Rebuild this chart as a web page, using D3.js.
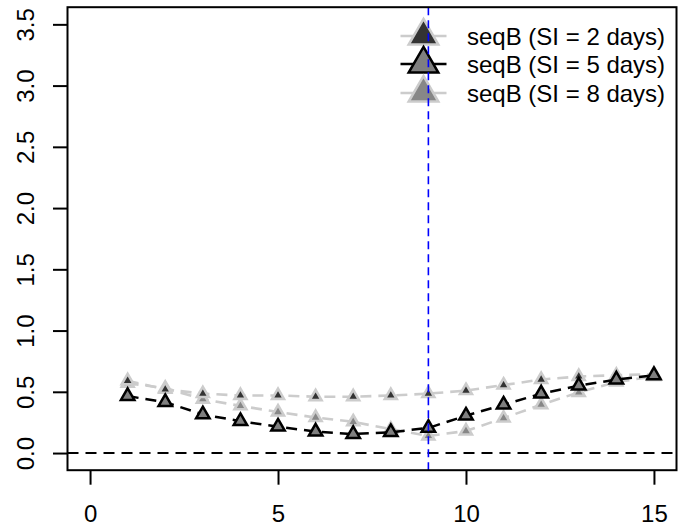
<!DOCTYPE html>
<html>
<head>
<meta charset="utf-8">
<script src="https://cdn.jsdelivr.net/npm/d3@7"></script>
<style>
  html, body { margin: 0; padding: 0; background: #ffffff; }
  svg { display: block; }
  text { font-family: "Liberation Sans", Arial, Helvetica, sans-serif; }
</style>
</head>
<body>
<svg id="chart" width="685" height="531"></svg>
<script>
// ---- data ----
const days = [1,2,3,4,5,6,7,8,9,10,11,12,13,14,15];
const si2 = [0.59,0.52,0.485,0.47,0.47,0.46,0.46,0.47,0.485,0.51,0.555,0.60,0.625,0.635,0.645];
const si5 = [0.465,0.415,0.315,0.26,0.215,0.175,0.155,0.17,0.205,0.305,0.395,0.485,0.55,0.60,0.635];
const si8 = [0.57,0.53,0.44,0.385,0.335,0.29,0.255,0.195,0.14,0.18,0.285,0.395,0.495,0.58,0.625];
const seriesNames = ["seqB (SI = 2 days)", "seqB (SI = 5 days)", "seqB (SI = 8 days)"];
const xTicks = [0,5,10,15];
const yTicks = [0,0.5,1,1.5,2,2.5,3,3.5];
const vLineX = 9;
const hLineY = 0;

// ---- layout ----
const svg = d3.select("#chart");
const box = {left: 67.5, right: 676.5, top: 7.2, bottom: 470.2};
const x = d3.scaleLinear().domain([-0.6, 15.6]).range([box.left, box.right]);
const y = d3.scaleLinear().domain([-0.14, 3.64]).range([box.bottom, box.top]);

const light = "#cccccc";
const styles = [
  {data: si2, fill: "#333333", stroke: light, line: light, lw: 2.6, s: 4.4, sw: 2.6, legS: 11, legSW: 2.5},
  {data: si5, fill: "#7f7f7f", stroke: "#000000", line: "#000000", lw: 2.5, s: 5.0, sw: 2.5, legS: 11, legSW: 2.5},
  {data: si8, fill: "#878787", stroke: light, line: light, lw: 2.6, s: 4.4, sw: 2.6, legS: 11, legSW: 2.5}
];

function tri(cx, cy, s) {
  const r = 1.555 * s, xc = 1.347 * s, yc = 0.778 * s;
  return `M${cx},${cy - r}L${cx + xc},${cy + yc}L${cx - xc},${cy + yc}Z`;
}

// ---- series (SI=8, SI=2, SI=5 order so black on top) ----
const order = [2, 0, 1];
const line = d3.line().x((d, i) => x(days[i])).y(d => y(d));
order.forEach(k => {
  const st = styles[k];
  const g = svg.append("g");
  g.append("path").attr("d", line(st.data))
    .attr("fill", "none").attr("stroke", st.line).attr("stroke-width", st.lw)
    .attr("stroke-dasharray", "11,7");
  g.selectAll("path.pt").data(st.data).enter().append("path")
    .attr("class", "pt")
    .attr("d", (d, i) => tri(x(days[i]), y(d), st.s))
    .attr("fill", st.fill).attr("stroke", st.stroke).attr("stroke-width", st.sw)
    .attr("stroke-linejoin", "miter");
});

// ---- reference lines ----
svg.append("line")
  .attr("x1", box.left).attr("x2", box.right)
  .attr("y1", y(hLineY)).attr("y2", y(hLineY))
  .attr("stroke", "#000").attr("stroke-width", 2).attr("stroke-dasharray", "11,7");

// ---- legend ----
const legX = 423.5, legLineHalf = 23, legTextX = 467;
const legY = [36, 64, 93];
styles.forEach((st, k) => {
  const ly = legY[k];
  svg.append("line").attr("x1", legX - legLineHalf).attr("x2", legX + legLineHalf)
    .attr("y1", ly).attr("y2", ly).attr("stroke", st.line).attr("stroke-width", st.lw);
  svg.append("path").attr("d", tri(legX, ly, st.legS))
    .attr("fill", st.fill).attr("stroke", st.stroke).attr("stroke-width", st.legSW);
  svg.append("text").attr("x", legTextX).attr("y", ly + 8.5)
    .attr("font-size", 24).attr("fill", "#000").text(seriesNames[k]);
});

svg.append("line")
  .attr("x1", x(vLineX)).attr("x2", x(vLineX))
  .attr("y1", box.top).attr("y2", box.bottom)
  .attr("stroke", "#0000ff").attr("stroke-width", 1.6).attr("stroke-dasharray", "8,5");

// ---- axes ----
const xAxis = d3.axisBottom(x).tickValues(xTicks).tickSize(14.5).tickPadding(0).tickFormat(d3.format("d"));
const gx = svg.append("g").attr("transform", `translate(0,${box.bottom})`).call(xAxis);
gx.select(".domain").remove();
gx.selectAll(".tick line").attr("stroke", "#000").attr("stroke-width", 2);
gx.selectAll(".tick text").attr("font-size", 24).attr("fill", "#000")
  .attr("dy", null).attr("y", 52.3)
  .attr("font-family", "'Liberation Sans', Arial, sans-serif");

const yAxis = d3.axisLeft(y).tickValues(yTicks).tickSize(14.5).tickPadding(0).tickFormat(d3.format(".1f"));
const gy = svg.append("g").attr("transform", `translate(${box.left},0)`).call(yAxis);
gy.select(".domain").remove();
gy.selectAll(".tick line").attr("stroke", "#000").attr("stroke-width", 2);
gy.selectAll(".tick text").attr("font-size", 24).attr("fill", "#000")
  .attr("x", null).attr("dy", null)
  .attr("text-anchor", "middle")
  .attr("transform", "translate(-34,0) rotate(-90)")
  .attr("y", 0)
  .attr("font-family", "'Liberation Sans', Arial, sans-serif");

// ---- box ----
svg.append("rect")
  .attr("x", box.left).attr("y", box.top)
  .attr("width", box.right - box.left).attr("height", box.bottom - box.top)
  .attr("fill", "none").attr("stroke", "#000").attr("stroke-width", 2);
</script>
</body>
</html>
